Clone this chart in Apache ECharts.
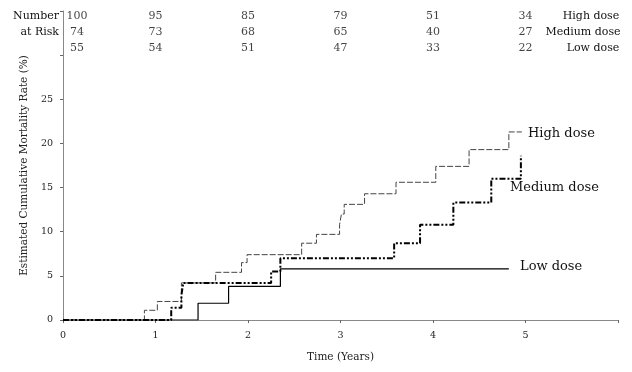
<!DOCTYPE html>
<html>
<head>
<meta charset="utf-8">
<script src="https://cdn.jsdelivr.net/npm/echarts@6/dist/echarts.min.js"></script>
<style>
html,body{margin:0;padding:0;background:#fff;}
#chart{width:632px;height:372px;}
</style>
</head>
<body>
<div id="chart"></div>
<script>
// ---- data ----
var highTimes  = [0, 0.88, 1.02, 1.28, 1.65, 1.93, 1.99, 2.58, 2.74, 2.99, 3.01, 3.04, 3.26, 3.60, 4.03, 4.39, 4.82, 4.96];
var highValues = [0, 1.1, 2.1, 4.2, 5.4, 6.5, 7.4, 8.7, 9.7, 10.8, 12.0, 13.1, 14.3, 15.6, 17.4, 19.3, 21.3, 21.3];
var medTimes   = [0, 1.17, 1.28, 1.30, 2.25, 2.35, 3.58, 3.86, 4.22, 4.63, 4.95];
var medValues  = [0, 1.4, 2.8, 4.2, 5.5, 7.0, 8.7, 10.8, 13.3, 16.0, 18.6];
var lowTimes   = [0, 1.46, 1.79, 2.35, 4.82];
var lowValues  = [0, 1.9, 3.8, 5.8, 5.8];

var riskTimes = [0, 1, 2, 3, 4, 5];
var riskHigh  = [100, 95, 85, 79, 51, 34];
var riskMed   = [74, 73, 68, 65, 40, 27];
var riskLow   = [55, 54, 51, 47, 33, 22];
var groupNames = ['High dose', 'Medium dose', 'Low dose'];

var xTicks = [0, 1, 2, 3, 4, 5];
var yTicks = [0, 5, 10, 15, 20, 25];

// ---- build ----
var FONT = 'DejaVu Serif';
function pairs(t, v) { return t.map(function (x, i) { return [x, v[i]]; }); }

var rowY = [34.45, 32.55, 30.75];
function riskSeries(arr, row) {
  return {
    type: 'scatter', symbolSize: 0, silent: true, clip: false,
    data: arr.map(function (n, i) {
      return {
        value: [riskTimes[i], rowY[row], n],
        label: { offset: i === 0 ? [14, 0] : [0, 0] }
      };
    }),
    label: {
      show: true, position: 'inside',
      formatter: function (p) { return String(p.value[2]); },
      fontFamily: FONT, fontSize: 11, color: '#111'
    }
  };
}

var chart = echarts.init(document.getElementById('chart'));
chart.setOption({
  animation: false,
  backgroundColor: '#fff',
  grid: { left: 63, right: 14, top: 11, bottom: 52, containLabel: false },
  xAxis: {
    type: 'value', min: 0, max: 6, interval: 1, offset: 3,
    axisLine: { lineStyle: { color: '#888', width: 1 } },
    axisTick: { length: 3, lineStyle: { color: '#666' } },
    splitLine: { show: false },
    axisLabel: {
      margin: 8, fontFamily: FONT, fontSize: 9.5, color: '#222',
      formatter: function (v) { return xTicks.indexOf(v) >= 0 ? String(v) : ''; }
    },
    name: 'Time (Years)', nameLocation: 'middle', nameGap: 29,
    nameTextStyle: { fontFamily: FONT, fontSize: 10.5, color: '#222' }
  },
  yAxis: {
    type: 'value', min: 0, max: 35, interval: 5, offset: 3,
    axisLine: { show: true, lineStyle: { color: '#888', width: 1 } },
    axisTick: { show: true, length: 3, lineStyle: { color: '#666' } },
    splitLine: { show: false },
    axisLabel: {
      margin: 7, fontFamily: FONT, fontSize: 9.5, color: '#222',
      formatter: function (v) { return yTicks.indexOf(v) >= 0 ? String(v) : ''; }
    },
    name: 'Estimated Cumulative Mortality Rate (%)', nameLocation: 'middle', nameGap: 30,
    nameTextStyle: { fontFamily: FONT, fontSize: 10.5, color: '#222' }
  },
  series: [
    { type: 'line', step: 'end', symbol: 'none', data: pairs(highTimes, highValues),
      lineStyle: { color: '#444', width: 1, type: [6, 2] } },
    { type: 'line', step: 'end', symbol: 'none', data: pairs(medTimes, medValues),
      lineStyle: { color: '#000', width: 2, type: [6, 2, 2, 2, 2, 2] } },
    { type: 'line', step: 'end', symbol: 'none', data: pairs(lowTimes, lowValues),
      lineStyle: { color: '#000', width: 1.2, type: 'solid' } },
    riskSeries(riskHigh, 0),
    riskSeries(riskMed, 1),
    riskSeries(riskLow, 2)
  ],
  graphic: [
    { type: 'text', x: 59, y: 15.7, style: { text: 'Number', align: 'right', verticalAlign: 'middle', font: '11px "DejaVu Serif"', fill: '#111' } },
    { type: 'text', x: 59, y: 32.3, style: { text: 'at Risk', align: 'right', verticalAlign: 'middle', font: '11px "DejaVu Serif"', fill: '#111' } },
    { type: 'text', x: 591, y: 15.7, style: { text: groupNames[0], align: 'center', verticalAlign: 'middle', font: '11px "DejaVu Serif"', fill: '#111' } },
    { type: 'text', x: 583, y: 32.3, style: { text: groupNames[1], align: 'center', verticalAlign: 'middle', font: '11px "DejaVu Serif"', fill: '#111' } },
    { type: 'text', x: 593, y: 48.3, style: { text: groupNames[2], align: 'center', verticalAlign: 'middle', font: '11px "DejaVu Serif"', fill: '#111' } },
    { type: 'text', x: 528, y: 134, style: { text: groupNames[0], align: 'left', verticalAlign: 'middle', font: '13px "DejaVu Serif"', fill: '#111' } },
    { type: 'text', x: 510, y: 188, style: { text: groupNames[1], align: 'left', verticalAlign: 'middle', font: '13px "DejaVu Serif"', fill: '#111' } },
    { type: 'text', x: 520, y: 267, style: { text: groupNames[2], align: 'left', verticalAlign: 'middle', font: '13px "DejaVu Serif"', fill: '#111' } }
  ]
});
</script>
</body>
</html>
